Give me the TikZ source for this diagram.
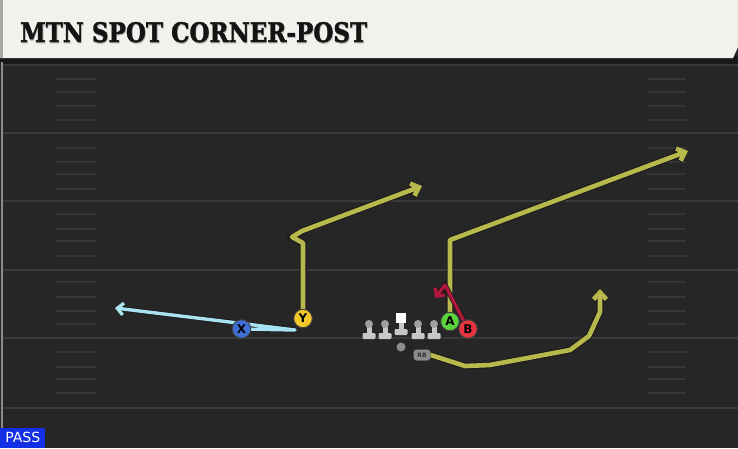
\documentclass[tikz,border=0pt]{standalone}
\usepackage{fontspec}
\setmainfont{DejaVu Sans}
\newfontfamily\titlefont{DejaVu Serif}[BoldFeatures={FakeBold=1.6}]
\usetikzlibrary{arrows.meta}
\definecolor{fieldbg}{HTML}{262626}
\definecolor{yardline}{HTML}{3A3A3A}
\definecolor{hashc}{HTML}{353535}
\definecolor{headbg}{HTML}{F3F1EB}
\definecolor{routey}{HTML}{B8B94C}
\definecolor{routeb}{HTML}{A9E3F2}
\definecolor{router}{HTML}{B0173C}
\definecolor{pY}{HTML}{F3C62A}
\definecolor{pX}{HTML}{3F6FD6}
\definecolor{pA}{HTML}{5CD33A}
\definecolor{pB}{HTML}{E8343F}
\definecolor{passblue}{HTML}{1430E6}
\pgfdeclarelayer{field}
\pgfdeclarelayer{routes}
\pgfsetlayers{field,routes,main}
\tikzset{
  player/.style={circle, draw=black!75, line width=0.9pt, minimum size=18.5pt, inner sep=0pt, font=\bfseries\fontsize{12}{12}\selectfont, text=black},
  route/.style={line width=4.6pt, line join=round, line cap=round,
     -{Straight Barb[length=7pt 0,width=13pt 0]},
     preaction={draw=black!90, line width=6.6pt, -{Straight Barb[length=7pt 0,width=13pt 0]}}},
  thinroute/.style={line width=3.4pt, line join=round, line cap=round,
     -{Straight Barb[length=6pt 0,width=12pt 0]},
     preaction={draw=black!90, line width=5pt, -{Straight Barb[length=6pt 0,width=12pt 0]}}},
  yard/.style={draw=yardline, line width=2pt},
  hash/.style={draw=hashc, line width=1.3pt},
  lineman/.style={fill=black!22, draw=none},
}
\begin{document}
\begin{tikzpicture}[x=1pt,y=-1pt]
\useasboundingbox (0,0) rectangle (738,448);
\begin{pgfonlayer}{field}
  \fill[fieldbg] (0,0) rectangle (738,448);
  \fill[black!90] (0,56) rectangle (738,66);
  \fill[fieldbg] (0,64) rectangle (738,448);
  \draw[draw=black!45, line width=1.2pt] (2,62) -- (2,448);
  \foreach \yy in {65,133,201,270,338,408} {\draw[yard] (3,\yy) -- (738,\yy);}
  \foreach \yy in {79,92,106,120,148,162,174,189,214,229,241,256,282,297,311,324,352,367,379,393} {
    \draw[hash] (56,\yy) -- (96,\yy);
    \draw[hash] (647,\yy) -- (686,\yy);
  }
  \fill[headbg] (0,0) -- (738,0) -- (738,47) -- (733,58) -- (0,58) -- cycle;
  \fill[black!35] (0,0) rectangle (3,58);
  \node[anchor=base west, inner sep=0pt, text=black!30] at (20.6,43.2) {\resizebox{347pt}{20pt}{\titlefont\bfseries MTN SPOT CORNER-POST}};
\end{pgfonlayer}
\node[anchor=base west, inner sep=0pt, text=black!92] (title) at (20,42) {\resizebox{347pt}{20pt}{\titlefont\bfseries MTN SPOT CORNER-POST}};
\node[fill=passblue, text=white, anchor=south west, minimum width=45pt, minimum height=20pt, inner sep=0pt, font=\fontsize{14}{14}\selectfont] (pass) at (0,448) {PASS};
% linemen
\foreach \xx/\nm in {369/lt,385/lg,418/rg,434/rt} {
  \fill[lineman] (\xx-2.5,325) rectangle (\xx+2.5,335);
  \fill[lineman, rounded corners=1.2pt] (\xx-6.5,333) rectangle (\xx+6.5,339);
  \node[circle, fill=black!38, minimum size=8pt, inner sep=0pt] (\nm) at (\xx,324) {};
}
\fill[lineman] (398.5,320) rectangle (403.5,331);
\fill[lineman, rounded corners=1.2pt] (394.5,329) rectangle (407.5,335);
\node[fill=white, minimum size=9.5pt, inner sep=0pt] (c) at (401,318) {};
\node[circle, fill=black!45, minimum size=9pt, inner sep=0pt] (qb) at (401,347) {};
\node[fill=black!45, draw=black!70, rounded corners=3pt, minimum width=17pt, minimum height=11pt, inner sep=0pt, font=\bfseries\fontsize{6}{6}\selectfont, text=black!80] (rb) at (422,355) {RB};
% players
\node[player, fill=pY] (Y) at (303,318.5) {Y};
\node[player, fill=pX] (X) at (241.5,329) {X};
\node[player, fill=pA] (A) at (450,321.5) {A};
\node[player, fill=pB] (B) at (468,329) {B};
% route end points
\coordinate (yend) at (422,186);
\coordinate (xturn) at (295,330);
\coordinate (xend) at (115,308);
\coordinate (aend) at (688,151);
\coordinate (bend) at (435,298);
\coordinate (rbend) at (600,289);
\begin{pgfonlayer}{routes}
  \draw[route, draw=routey] (Y.center) -- (303,243) -- (292,237) -- (302,231) -- (yend);
  \draw[thinroute, draw=routeb] (X.center) -- (xturn) -- (xend);
  \draw[route, draw=routey] (A.center) -- (450,240) -- (aend);
  \draw[thinroute, draw=router] (B.center) -- (445,285) -- (bend);
  \draw[route, draw=routey] (rb.east) -- (465,366) -- (490,365) -- (570,350) -- (589,336) -- (600,312) -- (rbend);
\end{pgfonlayer}
\end{tikzpicture}
\end{document}
